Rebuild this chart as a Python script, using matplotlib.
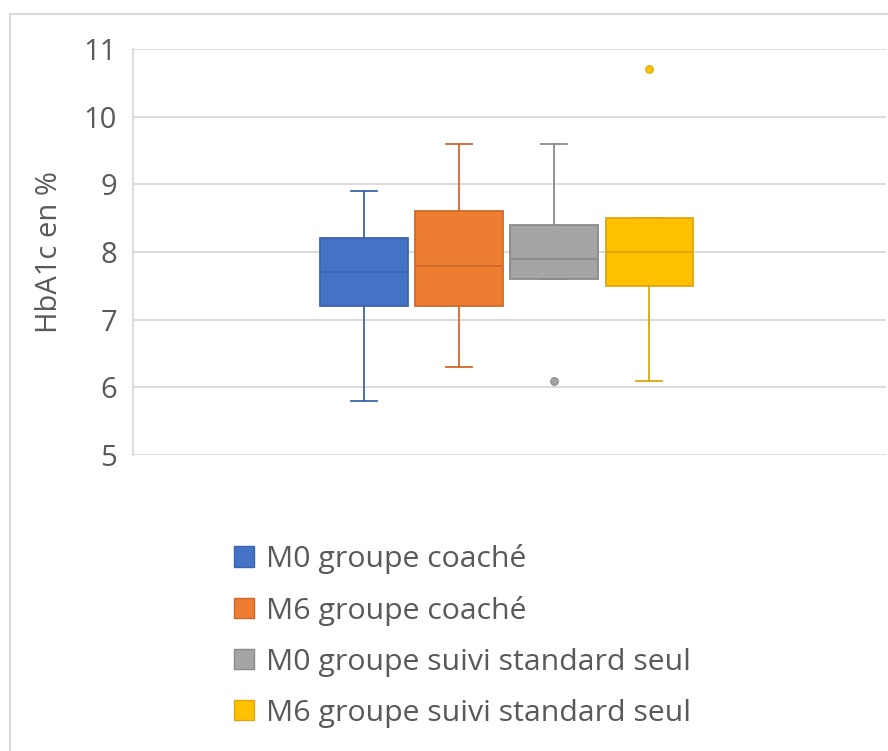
import matplotlib.pyplot as plt
from matplotlib.patches import Patch, Rectangle

series = [
    "M0 groupe coaché",
    "M6 groupe coaché",
    "M0 groupe suivi standard seul",
    "M6 groupe suivi standard seul",
]
whislo = [5.8, 6.3, 7.6, 6.1]
q1 = [7.2, 7.2, 7.6, 7.5]
med = [7.7, 7.8, 7.9, 8.0]
q3 = [8.2, 8.6, 8.4, 8.5]
whishi = [8.9, 9.6, 9.6, 8.5]
fliers = [[], [], [6.1], [10.7]]

fills = ["#4472C4", "#ED7D31", "#A5A5A5", "#FFC000"]
edges = ["#3B64B0", "#D0682A", "#8A8A8A", "#DDA610"]
txt = "#595959"

plt.rcParams["font.family"] = ["Open Sans", "DejaVu Sans"]

fig = plt.figure(figsize=(8.88, 7.51), dpi=100)
ax = fig.add_axes([133 / 888, 1 - 455 / 751, (886 - 133) / 888, (455 - 49) / 751])

stats = []
for i in range(len(series)):
    stats.append(dict(whislo=whislo[i], q1=q1[i], med=med[i], q3=q3[i],
                      whishi=whishi[i], fliers=fliers[i], label=series[i]))

positions = [1, 2, 3, 4]
for i, s in enumerate(stats):
    ax.bxp([s], positions=[positions[i]], widths=0.92, capwidths=0.27,
           patch_artist=True, showfliers=True,
           boxprops=dict(facecolor=fills[i], edgecolor=edges[i], linewidth=1.3),
           medianprops=dict(color=edges[i], linewidth=1.3),
           whiskerprops=dict(color=edges[i], linewidth=1.3),
           capprops=dict(color=edges[i], linewidth=1.3),
           flierprops=dict(marker="o", markersize=5.5, markerfacecolor=fills[i],
                           markeredgecolor=edges[i], markeredgewidth=0.8),
           zorder=3)

ax.set_xlim(-1.43, 6.49)
ax.set_ylim(5, 11)
ax.set_yticks(range(5, 12))
ax.set_xticks([])
ax.grid(axis="y", color="#D9D9D9", linewidth=1.3, zorder=0)
ax.set_axisbelow(True)
for side in ["top", "right", "bottom"]:
    ax.spines[side].set_visible(False)
ax.spines["left"].set_color("#D9D9D9")
ax.spines["left"].set_linewidth(1.3)
ax.tick_params(axis="y", length=0, pad=11.5, labelsize=21, labelcolor=txt)
ax.set_ylabel("HbA1c en %", fontsize=21, color=txt, labelpad=14)

# cadre extérieur du graphique
fig.patches.append(Rectangle((10 / 888, -0.01), 1.0, 1 - 14 / 751 + 0.01,
                             transform=fig.transFigure, fill=False,
                             edgecolor="#D9D9D9", linewidth=1.5))

handles = [Patch(facecolor=fills[i], edgecolor=edges[i], linewidth=1) for i in range(4)]
fig.legend(handles, series, loc="upper left", bbox_to_anchor=(222 / 888, 1 - 532 / 751),
           frameon=False, fontsize=21.8, labelcolor=txt, handlelength=0.65,
           handleheight=0.65, handletextpad=0.4, labelspacing=0.72, borderaxespad=0)

fig.savefig("out.png", dpi=100)
